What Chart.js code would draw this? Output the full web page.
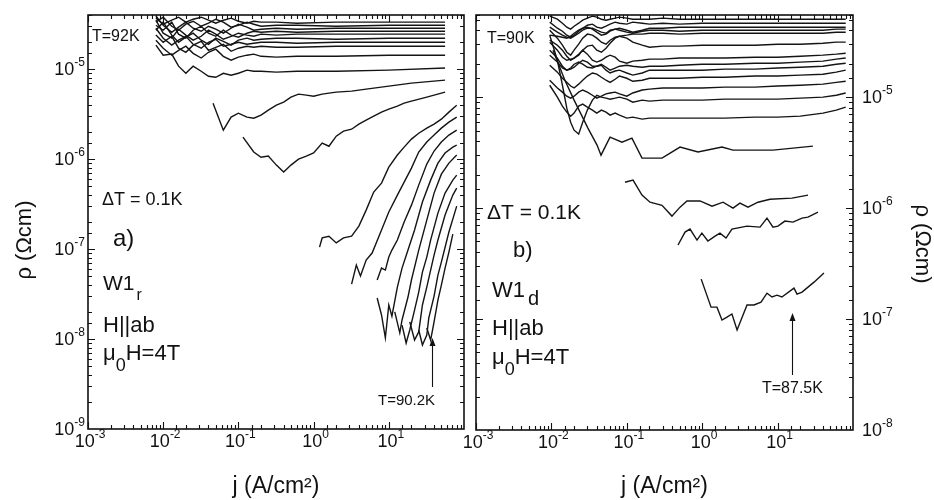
<!DOCTYPE html>
<html>
<head>
<meta charset="utf-8">
<script src="https://cdn.jsdelivr.net/npm/chart.js@4.4.1/dist/chart.umd.min.js"></script>
<style>
  html, body { margin: 0; padding: 0; background: #fff; }
  #wrap { position: relative; width: 934px; height: 500px; overflow: hidden; }
  #wrap canvas { position: absolute; left: 0; top: 0; }
</style>
</head>
<body>
<div id="wrap">
  <canvas id="panelA" width="934" height="500"></canvas>
  <canvas id="panelB" width="934" height="500"></canvas>
</div>
<script>
// ---------- panel a) : W1r, H||ab, mu0H = 4T ----------
// current density grid shared by the upper (nearly ohmic) isotherms
const jA_top = [0.008, 0.01, 0.013, 0.016, 0.02, 0.025, 0.032, 0.04, 0.05, 0.063, 0.08, 0.1, 0.13, 0.16, 0.2, 0.32, 0.6, 2, 10, 56];
const rhoA1  = [3.69e-5,3.16e-5,3.50e-5,3.78e-5,3.33e-5,3.59e-5,3.78e-5,3.50e-5,3.24e-5,3.50e-5,3.69e-5,3.41e-5,3.24e-5,3.41e-5,3.33e-5,3.33e-5,3.24e-5,3.33e-5,3.33e-5,3.33e-5];
const rhoA2  = [3.33e-5,3.78e-5,3.0e-5,2.71e-5,3.16e-5,3.41e-5,3.0e-5,3.24e-5,3.59e-5,3.33e-5,2.93e-5,3.08e-5,3.33e-5,3.16e-5,3.0e-5,3.08e-5,3.08e-5,3.0e-5,3.08e-5,3.08e-5];
const rhoA3  = [3.9e-5,3.08e-5,2.57e-5,2.93e-5,3.33e-5,2.85e-5,2.64e-5,3.0e-5,2.78e-5,2.51e-5,2.85e-5,3.16e-5,2.93e-5,2.71e-5,2.78e-5,2.85e-5,2.78e-5,2.85e-5,2.85e-5,2.85e-5];
const rhoA4  = [3.08e-5,2.71e-5,3.33e-5,2.45e-5,2.21e-5,2.71e-5,3.0e-5,2.51e-5,2.32e-5,2.71e-5,2.39e-5,2.27e-5,2.51e-5,2.64e-5,2.57e-5,2.64e-5,2.57e-5,2.64e-5,2.64e-5,2.64e-5];
const rhoA5  = [3.50e-5,2.51e-5,2.21e-5,2.78e-5,2.39e-5,2.10e-5,2.32e-5,2.71e-5,2.45e-5,2.15e-5,2.32e-5,2.51e-5,2.39e-5,2.32e-5,2.45e-5,2.39e-5,2.45e-5,2.45e-5,2.45e-5,2.45e-5];
const rhoA6  = [2.71e-5,3.33e-5,2.39e-5,1.99e-5,2.27e-5,2.51e-5,2.10e-5,1.89e-5,2.21e-5,2.04e-5,1.85e-5,2.10e-5,2.21e-5,2.10e-5,2.15e-5,2.21e-5,2.21e-5,2.15e-5,2.21e-5,2.21e-5];
const rhoA7  = [2.85e-5,2.21e-5,1.85e-5,2.10e-5,2.32e-5,1.89e-5,1.71e-5,1.99e-5,2.15e-5,1.80e-5,1.89e-5,1.99e-5,1.89e-5,1.94e-5,1.99e-5,1.99e-5,1.94e-5,1.99e-5,1.99e-5,1.99e-5];
const rhoA8  = [2.39e-5,1.99e-5,2.32e-5,1.71e-5,1.54e-5,1.85e-5,2.04e-5,1.62e-5,1.75e-5,1.89e-5,1.58e-5,1.71e-5,1.80e-5,1.75e-5,1.80e-5,1.75e-5,1.75e-5,1.80e-5,1.80e-5,1.80e-5];
const rhoA9  = [2.10e-5,1.71e-5,1.43e-5,1.62e-5,1.80e-5,1.50e-5,1.33e-5,1.54e-5,1.67e-5,1.39e-5,1.26e-5,1.36e-5,1.43e-5,1.47e-5,1.39e-5,1.36e-5,1.39e-5,1.39e-5,1.43e-5,1.43e-5];
const rhoA10 = [1.85e-5,1.43e-5,1.47e-5,1.08e-5,9.0e-6,1.08e-5,9.48e-6,8.34e-6,8.13e-6,9.0e-6,8.56e-6,9.0e-6,9.75e-6,9.48e-6,9.48e-6,9.26e-6,9.48e-6,9.48e-6,9.75e-6,1.03e-5];

const jA11   = [0.046,0.063,0.08,0.1,0.13,0.16,0.2,0.25,0.32,0.4,0.5,0.63,0.8,1,1.3,1.6,2,3.2,5,10,20,56];
const rhoA11 = [4.19e-6,2.10e-6,2.93e-6,3.24e-6,2.93e-6,2.85e-6,3.08e-6,3.50e-6,3.98e-6,4.30e-6,4.89e-6,5.28e-6,5.14e-6,5.01e-6,5.28e-6,5.41e-6,5.55e-6,5.70e-6,6.0e-6,6.47e-6,6.99e-6,7.55e-6];

const jA12   = [0.115,0.16,0.2,0.25,0.32,0.4,0.5,0.63,0.8,1,1.3,1.6,2,2.5,3.2,4,5,6.3,8,10,13,16,20,32,56];
const rhoA12 = [1.76e-6,1.20e-6,1.05e-6,1.08e-6,8.58e-7,7.17e-7,8.58e-7,1.0e-6,1.08e-6,1.17e-6,1.51e-6,1.39e-6,1.80e-6,2.05e-6,2.15e-6,2.45e-6,2.71e-6,3.0e-6,3.33e-6,3.59e-6,3.88e-6,4.19e-6,4.41e-6,4.89e-6,5.55e-6];

// strongly non-linear isotherms at the low-temperature end
const jA13   = [1.2,1.3,1.6,2,2.5,3.2,4,5,6.3,8,10,13,16,20,25,32,40,50,63,80];
const rhoA13 = [1.05e-7,1.33e-7,1.39e-7,1.17e-7,1.33e-7,1.39e-7,1.80e-7,2.71e-7,4.30e-7,5.41e-7,8.15e-7,1.11e-6,1.36e-6,1.67e-6,1.94e-6,2.21e-6,2.45e-6,2.78e-6,3.33e-6,3.98e-6];
const jA14   = [3.2,3.7,4.2,5,6,8,10,13,16,20,25,32,40,50,63,80];
const rhoA14 = [4.08e-8,6.64e-8,5.01e-8,7.55e-8,9.03e-8,1.63e-7,2.58e-7,3.98e-7,5.55e-7,7.94e-7,1.20e-6,1.55e-6,1.85e-6,2.21e-6,2.58e-6,2.93e-6];
const jA15   = [7,8,9,10,11,13,16,20,25,32,40,50,63,80];
const rhoA15 = [4.53e-8,6.15e-8,5.84e-8,8.15e-8,9.75e-8,1.26e-7,2.0e-7,3.08e-7,5.14e-7,8.80e-7,1.23e-6,1.55e-6,1.85e-6,2.10e-6];
const jA16   = [7,8,9,10,11,13,15,18,22,28,36,45,56,71,80];
const rhoA16 = [2.86e-8,1.85e-8,1.03e-8,2.39e-8,1.80e-8,3.78e-8,6.15e-8,9.75e-8,1.63e-7,3.33e-7,5.84e-7,9.03e-7,1.17e-6,1.36e-6,1.43e-6];
const jA17   = [12,14,15,18,20,25,32,40,50,63,80];
const rhoA17 = [2.0e-8,1.17e-8,1.63e-8,2.93e-8,4.53e-8,9.75e-8,2.10e-7,4.19e-7,6.81e-7,9.03e-7,1.11e-6];
const jA18   = [15,17,19,22,25,28,32,36,45,56,71,80];
const rhoA18 = [1.43e-8,9.03e-9,1.26e-8,2.10e-8,3.33e-8,5.55e-8,8.15e-8,1.26e-7,2.51e-7,4.19e-7,5.84e-7,6.64e-7];
const jA19   = [19,22,25,28,32,36,40,45,56,71,80];
const rhoA19 = [1.55e-8,9.75e-9,1.20e-8,2.39e-8,3.78e-8,5.84e-8,8.58e-8,1.26e-7,2.39e-7,3.98e-7,4.76e-7];
const jA20   = [25,28,32,34,40,45,50,63,80];
const rhoA20 = [1.26e-8,8.58e-9,1.11e-8,1.71e-8,3.0e-8,5.14e-8,7.17e-8,1.55e-7,3.0e-7];
const jA21   = [32,36,40,45,50,56,63,71];
const rhoA21 = [1.33e-8,9.75e-9,1.55e-8,2.71e-8,3.98e-8,6.15e-8,9.26e-8,1.47e-7];

// ---------- panel b) : W1d, H||ab, mu0H = 4T ----------
const jB_flat = [0.0095,0.012,0.014,0.016,0.018,0.02,0.023,0.026,0.03,0.035,0.04,0.046,0.053,0.06,0.07,0.08,0.1,0.12,0.16,0.2,0.3,0.5,1,2,5,10,20,40,60,80];
const rhoB1  = [5.37e-5,5.04e-5,4.64e-5,4.27e-5,4.10e-5,4.36e-5,4.64e-5,4.94e-5,5.15e-5,5.37e-5,5.26e-5,5.04e-5,4.94e-5,5.04e-5,5.15e-5,5.26e-5,5.15e-5,5.04e-5,5.04e-5,5.04e-5,5.15e-5,5.04e-5,5.04e-5,5.04e-5,5.04e-5,5.04e-5,5.04e-5,5.04e-5,5.04e-5,5.04e-5];
const rhoB2  = [4.74e-5,4.18e-5,3.93e-5,3.62e-5,3.47e-5,3.62e-5,3.93e-5,4.18e-5,4.45e-5,4.55e-5,4.27e-5,4.18e-5,4.36e-5,4.55e-5,4.74e-5,4.64e-5,4.55e-5,4.74e-5,4.64e-5,4.55e-5,4.64e-5,4.55e-5,4.64e-5,4.64e-5,4.64e-5,4.64e-5,4.64e-5,4.64e-5,4.64e-5,4.64e-5];
const rhoB3  = [4.27e-5,3.85e-5,3.62e-5,3.47e-5,3.40e-5,3.54e-5,3.77e-5,4.01e-5,4.18e-5,4.18e-5,4.01e-5,3.85e-5,3.77e-5,4.01e-5,4.10e-5,4.18e-5,4.01e-5,3.85e-5,4.01e-5,4.18e-5,4.18e-5,4.27e-5,4.27e-5,4.27e-5,4.27e-5,4.27e-5,4.27e-5,4.27e-5,4.27e-5,4.27e-5];
const rhoB4  = [3.62e-5,3.54e-5,3.47e-5,3.40e-5,3.54e-5,3.77e-5,4.01e-5,4.18e-5,4.27e-5,4.10e-5,3.85e-5,3.62e-5,3.70e-5,3.93e-5,4.10e-5,4.01e-5,3.85e-5,3.77e-5,3.93e-5,4.01e-5,4.01e-5,3.93e-5,4.01e-5,4.01e-5,4.01e-5,4.01e-5,4.01e-5,4.01e-5,4.10e-5,4.10e-5];
const rhoB5  = [4.01e-5,3.40e-5,2.94e-5,2.54e-5,2.39e-5,2.65e-5,3.0e-5,3.40e-5,3.70e-5,3.62e-5,3.40e-5,3.13e-5,3.0e-5,3.26e-5,3.47e-5,3.54e-5,3.62e-5,3.70e-5,3.70e-5,3.77e-5,3.77e-5,3.70e-5,3.77e-5,3.77e-5,3.77e-5,3.77e-5,3.77e-5,3.77e-5,3.85e-5,3.85e-5];
const rhoB6  = [3.26e-5,2.94e-5,2.65e-5,2.34e-5,2.15e-5,2.25e-5,2.39e-5,2.65e-5,2.88e-5,2.94e-5,2.65e-5,2.54e-5,2.76e-5,3.06e-5,3.40e-5,3.54e-5,3.40e-5,3.13e-5,2.94e-5,2.82e-5,2.88e-5,2.88e-5,2.94e-5,2.94e-5,2.94e-5,3.0e-5,3.0e-5,3.06e-5,3.13e-5,3.13e-5];
const rhoB7  = [3.13e-5,2.65e-5,2.29e-5,2.15e-5,2.20e-5,2.25e-5,2.44e-5,2.65e-5,2.44e-5,2.15e-5,2.07e-5,2.15e-5,2.29e-5,2.39e-5,2.29e-5,2.11e-5,2.02e-5,2.11e-5,2.15e-5,2.20e-5,2.20e-5,2.25e-5,2.25e-5,2.25e-5,2.29e-5,2.29e-5,2.34e-5,2.39e-5,2.44e-5,2.49e-5];
const rhoB8  = [2.65e-5,2.25e-5,1.90e-5,1.75e-5,1.79e-5,1.86e-5,2.02e-5,2.15e-5,2.07e-5,1.90e-5,1.90e-5,1.98e-5,1.86e-5,1.75e-5,1.83e-5,1.90e-5,1.94e-5,1.90e-5,1.86e-5,1.90e-5,1.90e-5,1.94e-5,1.98e-5,1.98e-5,2.02e-5,2.02e-5,2.07e-5,2.11e-5,2.20e-5,2.25e-5];
const rhoB9  = [2.39e-5,2.07e-5,1.83e-5,1.75e-5,1.83e-5,1.98e-5,2.07e-5,1.98e-5,1.86e-5,1.83e-5,1.90e-5,1.94e-5,1.75e-5,1.65e-5,1.72e-5,1.75e-5,1.65e-5,1.58e-5,1.65e-5,1.75e-5,1.75e-5,1.75e-5,1.75e-5,1.79e-5,1.79e-5,1.83e-5,1.86e-5,1.90e-5,1.98e-5,2.02e-5];
const rhoB10 = [1.94e-5,1.68e-5,1.48e-5,1.36e-5,1.26e-5,1.21e-5,1.31e-5,1.42e-5,1.55e-5,1.65e-5,1.61e-5,1.51e-5,1.42e-5,1.36e-5,1.45e-5,1.55e-5,1.48e-5,1.39e-5,1.42e-5,1.48e-5,1.48e-5,1.48e-5,1.51e-5,1.51e-5,1.55e-5,1.55e-5,1.58e-5,1.61e-5,1.68e-5,1.75e-5];
const rhoB11 = [1.42e-5,1.21e-5,1.11e-5,1.02e-5,9.79e-6,1.02e-5,1.11e-5,1.16e-5,1.11e-5,1.04e-5,9.79e-6,1.02e-5,1.07e-5,1.09e-5,1.11e-5,1.07e-5,1.02e-5,1.09e-5,1.16e-5,1.18e-5,1.21e-5,1.21e-5,1.21e-5,1.23e-5,1.23e-5,1.26e-5,1.28e-5,1.31e-5,1.36e-5,1.39e-5];
const rhoB12 = [3.62e-5,2.15e-5,1.28e-5,7.96e-6,5.95e-6,5.04e-6,4.64e-6,5.95e-6,7.64e-6,9.40e-6,1.04e-5,1.0e-5,9.79e-6,9.59e-6,9.79e-6,1.0e-5,9.59e-6,9.01e-6,9.40e-6,9.20e-6,9.40e-6,9.40e-6,9.40e-6,9.59e-6,9.59e-6,9.59e-6,9.79e-6,1.0e-5,1.04e-5,1.09e-5];
const rhoB13 = [1.28e-5,1.0e-5,8.30e-6,7.33e-6,6.74e-6,7.18e-6,8.30e-6,8.65e-6,8.12e-6,7.64e-6,7.18e-6,7.64e-6,7.33e-6,6.88e-6,7.18e-6,6.88e-6,6.47e-6,6.60e-6,6.34e-6,6.47e-6,6.47e-6,6.47e-6,6.47e-6,6.47e-6,6.60e-6,6.60e-6,6.74e-6,7.18e-6,7.64e-6,8.12e-6];

const jB14   = [0.0105,0.0151,0.020,0.0305,0.0403,0.0455,0.0599,0.0863,0.117,0.159,0.293,0.508,0.879,1.83,2.56,8.69,16.0,29.4];
const rhoB14 = [2.65e-5,1.42e-5,9.40e-6,5.26e-6,3.70e-6,3.0e-6,4.36e-6,3.93e-6,4.27e-6,2.82e-6,2.82e-6,3.55e-6,3.20e-6,3.55e-6,3.33e-6,3.33e-6,3.47e-6,3.62e-6];
const jB15   = [0.0946,0.121,0.159,0.203,0.293,0.397,0.508,0.628,0.935,1.35,1.89,2.56,3.17,4.05,5.49,7.93,15.5,25.3];
const rhoB15 = [1.71e-6,1.79e-6,1.31e-6,1.13e-6,1.06e-6,8.47e-7,1.02e-6,1.16e-6,1.16e-6,1.04e-6,1.13e-6,1.0e-6,1.11e-6,1.02e-6,1.13e-6,1.20e-6,1.23e-6,1.31e-6];
const jB16   = [0.478,0.592,0.689,0.853,0.99,1.19,1.48,1.72,2.07,2.48,3.93,5.85,7.23,8.69,10.1,12.5,16.0,21.1,25.3,34.3];
const rhoB16 = [4.65e-7,6.08e-7,6.47e-7,5.15e-7,5.95e-7,5.05e-7,5.59e-7,5.95e-7,5.37e-7,6.47e-7,6.88e-7,6.74e-7,8.12e-7,6.74e-7,6.88e-7,7.64e-7,7.48e-7,8.12e-7,8.30e-7,9.20e-7];
const jB17   = [0.97,1.31,1.57,1.83,2.13,2.48,2.9,3.93,4.86,6.03,7.23,8.43,9.82,11.4,16.5,18.1,21.1,30.4,41.2];
const rhoB17 = [2.29e-7,1.28e-7,1.28e-7,9.79e-8,1.04e-7,1.11e-7,7.96e-8,1.34e-7,1.34e-7,1.42e-7,1.71e-7,1.58e-7,1.64e-7,1.58e-7,1.90e-7,1.68e-7,1.75e-7,2.15e-7,2.60e-7];

// axis ranges
const jRange    = [1e-3, 1e2];
const rhoRangeA = [1e-9, 4e-5];
const rhoRangeB = [1e-8, 5.5e-5];

// ---------- helpers ----------
const FONT = "'Liberation Sans', Arimo, Arial, sans-serif";
Chart.defaults.font.family = FONT;
Chart.defaults.color = '#111';

const decade = v => Math.round(Math.log10(v));
const isDecade = v => Math.abs(v / Math.pow(10, decade(v)) - 1) < 1e-6;

function line(js, rhos) {
  return {
    data: js.map((j, i) => ({ x: j, y: rhos[i] })),
    borderColor: '#141414',
    borderWidth: 1.4,
    pointRadius: 0,
    tension: 0,
    fill: false
  };
}

// "10" with a raised exponent; align = 'center' | 'right' | 'left'
function drawPower(ctx, v, x, base, align) {
  const e = String(decade(v));
  ctx.font = '18px ' + FONT;
  const wb = ctx.measureText('10').width;
  ctx.font = '12px ' + FONT;
  const we = ctx.measureText(e).width;
  let x0 = x;
  if (align === 'center') x0 = x - (wb + we) / 2 + 2;
  else if (align === 'right') x0 = x - wb - we;
  ctx.font = '18px ' + FONT;
  ctx.fillText('10', x0, base);
  ctx.font = '12px ' + FONT;
  ctx.fillText(e, x0 + wb, base - 9);
}

// frame with inward log ticks on all four sides, plus decade labels
function axesDecor(cfg) {
  return {
    id: 'axesDecor',
    afterDraw(chart) {
      const { ctx, chartArea: a, scales: { x, y } } = chart;
      ctx.save();
      ctx.strokeStyle = '#111';
      ctx.fillStyle = '#111';
      ctx.lineWidth = 1.6;
      ctx.strokeRect(a.left, a.top, a.right - a.left, a.bottom - a.top);
      ctx.lineWidth = 1.1;
      ctx.beginPath();
      x.ticks.forEach(t => {
        const p = Math.round(x.getPixelForValue(t.value)) + 0.5;
        if (p < a.left || p > a.right) return;
        const len = isDecade(t.value) ? 7 : 4;
        ctx.moveTo(p, a.bottom); ctx.lineTo(p, a.bottom - len);
        ctx.moveTo(p, a.top); ctx.lineTo(p, a.top + len);
      });
      y.ticks.forEach(t => {
        const p = Math.round(y.getPixelForValue(t.value)) + 0.5;
        if (p < a.top || p > a.bottom) return;
        const len = isDecade(t.value) ? 7 : 4;
        ctx.moveTo(a.left, p); ctx.lineTo(a.left + len, p);
        ctx.moveTo(a.right, p); ctx.lineTo(a.right - len, p);
      });
      ctx.stroke();

      ctx.textAlign = 'left';
      ctx.textBaseline = 'alphabetic';
      x.ticks.forEach(t => {
        if (!isDecade(t.value) || t.value > cfg.xLast * 1.001) return;
        drawPower(ctx, t.value, x.getPixelForValue(t.value), a.bottom + 18, 'center');
      });
      y.ticks.forEach(t => {
        if (!isDecade(t.value)) return;
        const p = y.getPixelForValue(t.value);
        if (cfg.ySide === 'left') drawPower(ctx, t.value, a.left - 3, p + 6, 'right');
        else drawPower(ctx, t.value, a.right + 9, p + 6, 'left');
      });
      ctx.restore();
    }
  };
}

// panel captions, arrows and the vertical axis title
function notes(items, arrows, title) {
  return {
    id: 'notes',
    afterDraw(chart) {
      const ctx = chart.ctx;
      ctx.save();
      ctx.fillStyle = '#111';
      ctx.strokeStyle = '#111';
      ctx.textAlign = 'left';
      ctx.textBaseline = 'alphabetic';
      items.forEach(it => {
        let x = it.x;
        it.parts.forEach(p => {
          ctx.font = p.size + 'px ' + FONT;
          ctx.fillText(p.t, x, it.y + (p.dy || 0));
          x += ctx.measureText(p.t).width + (p.gap || 0);
        });
      });
      arrows.forEach(ar => {
        ctx.lineWidth = 1.1;
        ctx.beginPath();
        ctx.moveTo(ar.x + 0.5, ar.y0);
        ctx.lineTo(ar.x + 0.5, ar.y1 + 6);
        ctx.stroke();
        ctx.beginPath();
        ctx.moveTo(ar.x + 0.5, ar.y1);
        ctx.lineTo(ar.x - 2.5, ar.y1 + 8);
        ctx.lineTo(ar.x + 3.5, ar.y1 + 8);
        ctx.closePath();
        ctx.fill();
      });
      ctx.translate(title.x, title.y);
      ctx.rotate(title.rot);
      ctx.textAlign = 'center';
      ctx.textBaseline = 'middle';
      ctx.font = title.size + 'px ' + FONT;
      ctx.fillText(title.text, 0, 0);
      ctx.restore();
    }
  };
}

function xScale(height) {
  return {
    type: 'logarithmic', position: 'bottom', min: jRange[0], max: jRange[1],
    grid: { display: false, drawTicks: false }, border: { display: false },
    ticks: { display: false, autoSkip: false },
    title: { display: true, text: 'j (A/cm\u00B2)', font: { size: 23 }, padding: { top: 0, bottom: 0 } },
    afterFit: s => { s.height = height; s.paddingLeft = 0; s.paddingRight = 0; }
  };
}

function yScale(range, pos, width) {
  return {
    type: 'logarithmic', position: pos, min: range[0], max: range[1],
    grid: { display: false, drawTicks: false }, border: { display: false },
    ticks: { display: false, autoSkip: false },
    afterFit: s => { s.width = width; s.paddingTop = 0; s.paddingBottom = 0; }
  };
}

const common = {
  responsive: false, animation: false, devicePixelRatio: 1,
  plugins: { legend: { display: false }, tooltip: { enabled: false } }
};

// ---------- panel a ----------
const topA = [rhoA1, rhoA2, rhoA3, rhoA4, rhoA5, rhoA6, rhoA7, rhoA8, rhoA9, rhoA10];
const setsA = topA.map(r => line(jA_top, r)).concat([
  line(jA11, rhoA11), line(jA12, rhoA12), line(jA13, rhoA13), line(jA14, rhoA14),
  line(jA15, rhoA15), line(jA16, rhoA16), line(jA17, rhoA17), line(jA18, rhoA18),
  line(jA19, rhoA19), line(jA20, rhoA20), line(jA21, rhoA21)
]);

new Chart(document.getElementById('panelA'), {
  type: 'line',
  data: { datasets: setsA },
  options: Object.assign({}, common, {
    layout: { padding: { left: 0, top: 15, right: 470, bottom: 0 } },
    scales: { x: xScale(71), y: yScale(rhoRangeA, 'left', 88) }
  }),
  plugins: [axesDecor({ xLast: 10, ySide: 'left' }), notes([
    { x: 92,  y: 41,  parts: [{ t: 'T=92K', size: 16 }] },
    { x: 102, y: 205, parts: [{ t: '\u0394T = 0.1K', size: 18 }] },
    { x: 113, y: 246, parts: [{ t: 'a)', size: 24 }] },
    { x: 103, y: 290, parts: [{ t: 'W1', size: 21, gap: 2 }, { t: 'r', size: 16, dy: 10 }] },
    { x: 103, y: 332, parts: [{ t: 'H||ab', size: 22 }] },
    { x: 103, y: 360, parts: [{ t: '\u03BC', size: 22 }, { t: '0', size: 18, dy: 11 }, { t: 'H=4T', size: 22 }] },
    { x: 378, y: 405, parts: [{ t: 'T=90.2K', size: 15 }] }
  ], [
    { x: 432, y0: 387, y1: 338 }
  ], { text: '\u03C1 (\u03A9cm)', x: 25, y: 240, rot: -Math.PI / 2, size: 22 })]
});

// ---------- panel b ----------
const flatB = [rhoB1, rhoB2, rhoB3, rhoB4, rhoB5, rhoB6, rhoB7, rhoB8, rhoB9, rhoB10, rhoB11, rhoB12, rhoB13];
const setsB = flatB.map(r => line(jB_flat, r)).concat([
  line(jB14, rhoB14), line(jB15, rhoB15), line(jB16, rhoB16), line(jB17, rhoB17)
]);

new Chart(document.getElementById('panelB'), {
  type: 'line',
  data: { datasets: setsB },
  options: Object.assign({}, common, {
    layout: { padding: { left: 476, top: 15, right: 31, bottom: 0 } },
    scales: { x: xScale(70), y: yScale(rhoRangeB, 'right', 50) }
  }),
  plugins: [axesDecor({ xLast: 10, ySide: 'right' }), notes([
    { x: 487, y: 43,  parts: [{ t: 'T=90K', size: 16 }] },
    { x: 487, y: 219, parts: [{ t: '\u0394T = 0.1K', size: 21 }] },
    { x: 513, y: 257, parts: [{ t: 'b)', size: 22 }] },
    { x: 492, y: 297, parts: [{ t: 'W1', size: 22, gap: 3 }, { t: 'd', size: 20, dy: 8 }] },
    { x: 492, y: 335, parts: [{ t: 'H||ab', size: 22 }] },
    { x: 492, y: 364, parts: [{ t: '\u03BC', size: 22 }, { t: '0', size: 18, dy: 11 }, { t: 'H=4T', size: 22 }] },
    { x: 762, y: 393, parts: [{ t: 'T=87.5K', size: 16 }] }
  ], [
    { x: 792, y0: 375, y1: 313 }
  ], { text: '\u03C1 (\u03A9cm)', x: 922, y: 244, rot: Math.PI / 2, size: 22 })]
});
</script>
</body>
</html>
